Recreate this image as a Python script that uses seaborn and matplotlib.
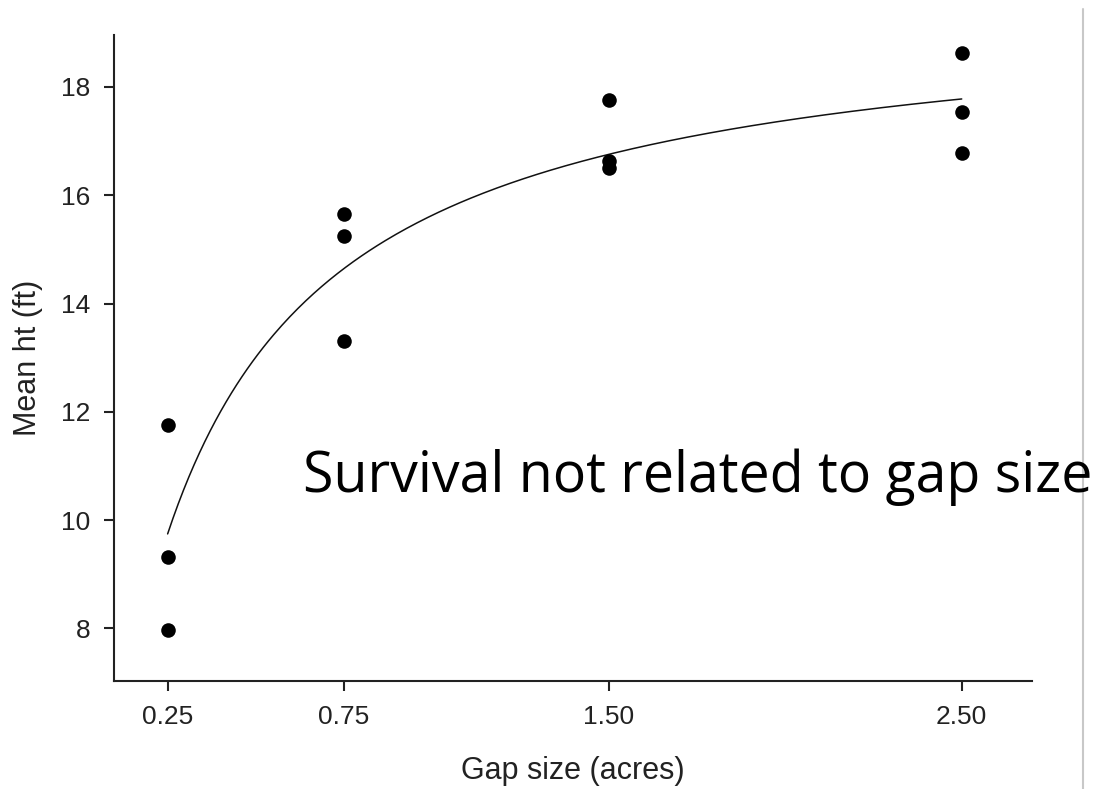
import numpy as np
import pandas as pd
import matplotlib
matplotlib.use("Agg")
import matplotlib.pyplot as plt
import seaborn as sns
from matplotlib.lines import Line2D

# Data
gap_size = [0.25, 0.25, 0.25, 0.75, 0.75, 0.75, 1.50, 1.50, 1.50, 2.50, 2.50, 2.50]
mean_ht = [11.76, 9.32, 7.97, 15.65, 15.24, 13.31, 17.75, 16.63, 16.50, 18.62, 17.53, 16.78]
x_ticks = [0.25, 0.75, 1.50, 2.50]
x_tick_labels = ["0.25", "0.75", "1.50", "2.50"]
y_ticks = [8, 10, 12, 14, 16, 18]
# Saturating (Michaelis-Menten) fit curve parameters
fit_vmax = 19.57
fit_k = 0.252

sns.set_theme(style="ticks")
plt.rcParams["font.family"] = ["Liberation Sans", "DejaVu Sans"]

df = pd.DataFrame({"gap": gap_size, "ht": mean_ht})
xc = np.linspace(min(gap_size), max(gap_size), 300)
curve = pd.DataFrame({"gap": xc, "ht": fit_vmax * xc / (fit_k + xc)})

fig = plt.figure(figsize=(10.97, 7.89), dpi=100)
ax = fig.add_axes([0.1039, 0.1369, 0.8368, 0.8188])

sns.lineplot(data=curve, x="gap", y="ht", ax=ax, color="#111111", linewidth=1.1)
sns.scatterplot(data=df, x="gap", y="ht", ax=ax, color="black", s=110,
                edgecolor="black", linewidth=0, zorder=3)

ax.set_xlim(0.098, 2.699)
ax.set_ylim(7.03, 18.96)
ax.set_xticks(x_ticks)
ax.set_xticklabels(x_tick_labels)
ax.set_yticks(y_ticks)
ax.tick_params(axis="both", labelsize=19, colors="#222222", length=7, width=1.5, pad=10)
for lab in ax.get_xticklabels() + ax.get_yticklabels():
    lab.set_color("#222222")
for sp in ["top", "right"]:
    ax.spines[sp].set_visible(False)
for sp in ["left", "bottom"]:
    ax.spines[sp].set_linewidth(1.5)
    ax.spines[sp].set_color("#222222")

ax.set_xlabel("Gap size (acres)", fontsize=22, color="#222222", labelpad=20)
ax.set_ylabel("Mean ht (ft)", fontsize=22, color="#222222", labelpad=13)

fig.text(303 / 1097, 1 - 492 / 789, "Survival not related to gap size",
         fontsize=40, family=["Open Sans", "DejaVu Sans"], color="black",
         ha="left", va="baseline")

fig.add_artist(Line2D([1083 / 1097, 1083 / 1097], [0, 1 - 9 / 789],
                      transform=fig.transFigure, color="#c8c8c8", linewidth=1.5))

fig.savefig("out.png", dpi=100, facecolor="white")
